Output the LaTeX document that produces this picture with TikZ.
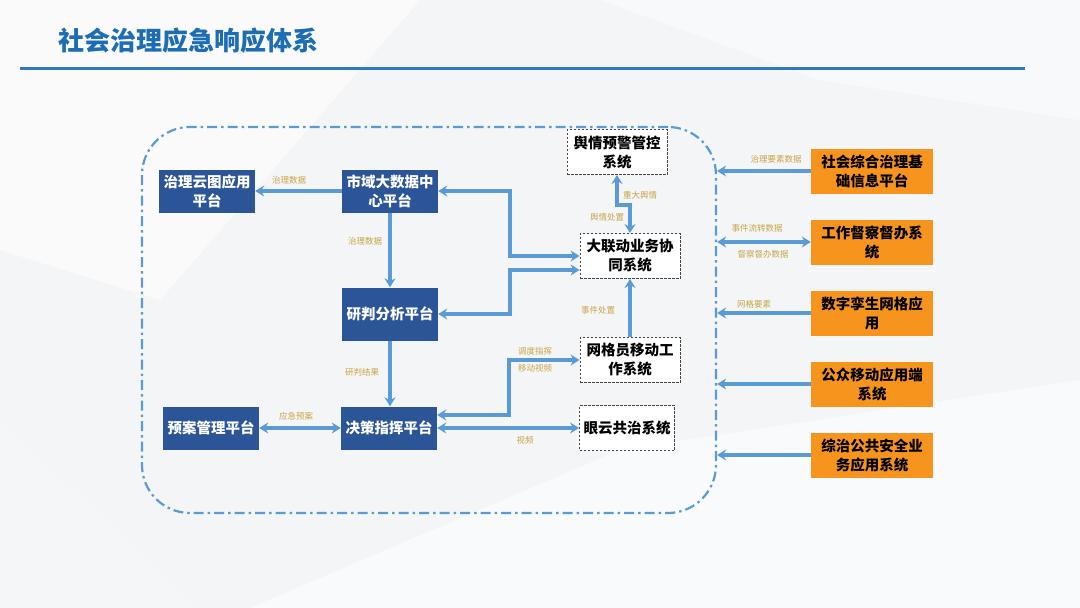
\documentclass[tikz,border=0pt]{standalone}
\usepackage{fontspec}
\setmainfont{Noto Sans CJK SC}
\usetikzlibrary{arrows.meta,calc}
\definecolor{bg}{HTML}{F4F5F7}
\definecolor{titleblue}{HTML}{1D6DB5}
\definecolor{lineblue}{HTML}{2E78C4}
\definecolor{boxblue}{HTML}{2B5597}
\definecolor{arrblue}{HTML}{5B9BD5}
\definecolor{boxorange}{HTML}{F7941D}
\definecolor{lblgold}{HTML}{C9A447}
\definecolor{dashgray}{HTML}{444444}
\tikzset{
  bluebox/.style={fill=boxblue, draw=none, text=white, font=\fontsize{14.5}{19}\selectfont\bfseries, align=center, inner sep=0pt, minimum width=96pt, minimum height=43pt},
  orbox/.style={fill=boxorange, draw=none, text=black, font=\fontsize{14.5}{19}\selectfont\bfseries, align=center, inner sep=0pt, minimum width=122pt, minimum height=45pt},
  dbox/.style={fill=white, draw=dashgray, line width=0.9pt, dash pattern=on 2.5pt off 1.5pt, text=black, font=\fontsize{14.5}{19}\selectfont\bfseries, align=center, inner sep=0pt, minimum width=100pt, minimum height=45pt},
  container/.style={draw=arrblue, line width=2.2pt, dash pattern=on 10pt off 4pt on 2.5pt off 4pt, rounded corners=48pt, inner sep=0pt, minimum width=574pt, minimum height=386pt},
  tip/.tip={Stealth[length=9pt,width=11pt,inset=3pt]},
  arr/.style={draw=arrblue, line width=3.4pt, -tip},
  arrb/.style={draw=arrblue, line width=3.4pt, tip-tip},
  lbl/.style={text=lblgold, font=\fontsize{8.5}{9}\selectfont, inner sep=1pt}
}
\begin{document}
\begin{tikzpicture}[x=1pt,y=-1pt]
\useasboundingbox (0,0) rectangle (1080,608);
% background
\fill[bg] (0,0) rectangle (1080,608);
\fill[white,opacity=0.55] (0,0) -- (420,0) -- (160,300) -- (0,250) -- cycle;
\fill[white,opacity=0.45] (600,0) -- (1080,0) -- (1080,120) -- (820,80) -- cycle;
\fill[white,opacity=0.5] (250,608) -- (620,450) -- (1080,380) -- (1080,608) -- cycle;
\fill[gray!6,opacity=0.5] (0,420) -- (200,608) -- (0,608) -- cycle;
% title
\node[anchor=west, text=titleblue, font=\fontsize{26}{30}\selectfont\bfseries, inner sep=0pt] (title) at (58,41) {社会治理应急响应体系};
\draw[lineblue, line width=3pt] (20,68) -- (1025,68);
% container
\node[container] (box) at (429,320) {};
% blue nodes
\node[bluebox] (zl) at (207,191) {治理云图应用\\平台};
\node[bluebox] (sj) at (390,191) {市域大数据中\\心平台};
\node[bluebox, minimum height=53pt] (yp) at (390,314) {研判分析平台};
\node[bluebox] (jc) at (389,428) {决策指挥平台};
\node[bluebox] (ya) at (211,428) {预案管理平台};
% dashed nodes
\node[dbox] (yq) at (617,152) {舆情预警管控\\系统};
\node[dbox] (dld) at (630,256) {大联动业务协\\同系统};
\node[dbox] (wgy) at (630,360) {网格员移动工\\作系统};
\node[dbox, minimum width=95pt] (yy) at (627,428) {眼云共治系统};
% orange nodes
\node[orbox] (sh) at (872,171) {社会综合治理基\\础信息平台};
\node[orbox] (gz) at (872,242) {工作督察督办系\\统};
\node[orbox] (sz) at (872,313) {数字孪生网格应\\用};
\node[orbox] (gm) at (872,384) {公众移动应用端\\系统};
\node[orbox] (zz) at (872,455) {综治公共安全业\\务应用系统};
% connectors
\draw[arr] (sj) -- (zl);
\draw[arr] (sj) -- (yp);
\draw[arr] (yp.south) -- (yp.south |- jc.north);
\draw[arrb] (ya) -- (jc);
\draw[arrb] (sj.east) -- (510,191) |- (dld.west);
\draw[arrb] (yp.east) -| (510,270) -- ([yshift=-14pt]dld.west);
\draw[arrb] ([yshift=13pt]jc.east) -| (509,360) -- (wgy.west);
\draw[arrb] (jc.east) -- (jc.east -| yy.west);
\draw[arr] (wgy.north) -- (dld.south);
\draw[arrb] (yq.south) -- (617,205) -| (dld.north);
\draw[arr] (sh.west) -- (sh.west -| box.east);
\draw[arrb] (gz.west -| box.east) -- (gz.west);
\draw[arr] (sz.west) -- (sz.west -| box.east);
\draw[arr] (gm.west) -- (gm.west -| box.east);
\draw[arr] (zz.west) -- (zz.west -| box.east);
% labels
\node[lbl] (l1) at (289,180) {治理数据};
\node[lbl] (l2) at (365,241) {治理数据};
\node[lbl] (l3) at (362,372) {研判结果};
\node[lbl] (l4) at (296,416) {应急预案};
\node[lbl] (l5) at (535,351) {调度指挥};
\node[lbl] (l6) at (535,368) {移动视频};
\node[lbl] (l7) at (525,440) {视频};
\node[lbl] (l8) at (598,310) {事件处置};
\node[lbl] (l9) at (640,195) {重大舆情};
\node[lbl] (l10) at (607,217) {舆情处置};
\node[lbl] (l11) at (776,159) {治理要素数据};
\node[lbl] (l12) at (757,228) {事件流转数据};
\node[lbl] (l13) at (763,254) {督察督办数据};
\node[lbl] (l14) at (754,304) {网格要素};
\end{tikzpicture}
\end{document}
